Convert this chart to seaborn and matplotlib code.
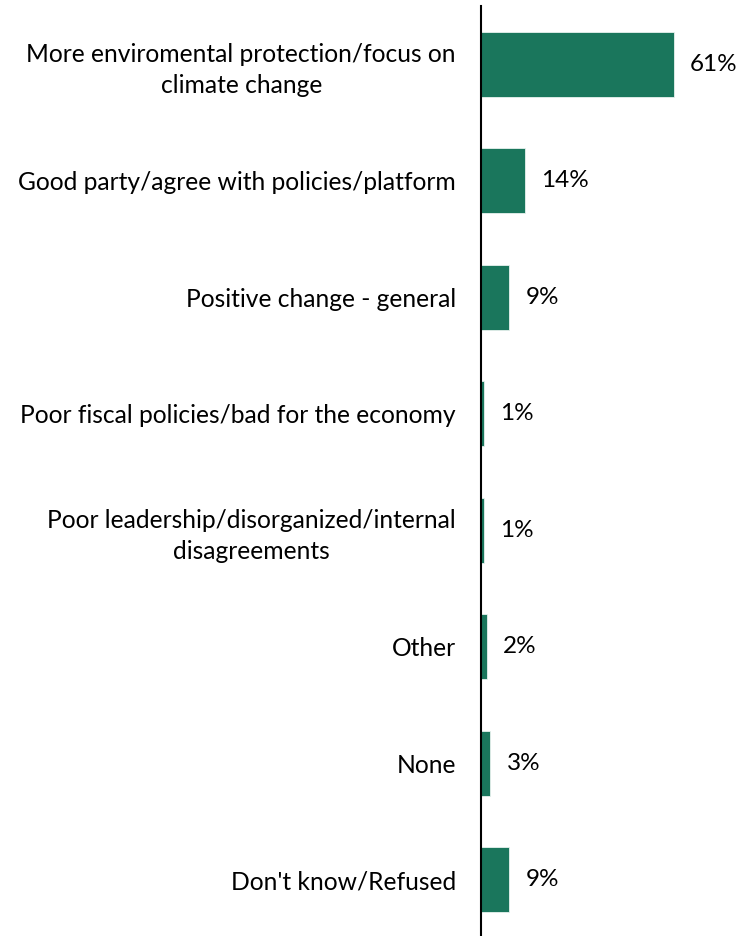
import matplotlib
matplotlib.use("Agg")
import matplotlib.pyplot as plt
import seaborn as sns
import pandas as pd

categories = [
    "More enviromental protection/focus on\nclimate change",
    "Good party/agree with policies/platform",
    "Positive change - general",
    "Poor fiscal policies/bad for the economy",
    "Poor leadership/disorganized/internal\ndisagreements",
    "Other",
    "None",
    "Don't know/Refused",
]
values = [61, 14, 9, 1, 1, 2, 3, 9]
value_labels = ["61%", "14%", "9%", "1%", "1%", "2%", "3%", "9%"]

sns.set_theme(style="white")
plt.rcParams["font.family"] = ["Lato", "DejaVu Sans"]

W, H = 741, 936
fig = plt.figure(figsize=(W / 100, H / 100), dpi=100)
ax = fig.add_axes([481 / W, -2 / H, (W - 481) / W, 932 / H])

df = pd.DataFrame({"cat": categories, "val": values})
sns.barplot(data=df, x="val", y="cat", orient="h", color="#1a765c",
            saturation=1, width=0.56, edgecolor="#e8f2ee", linewidth=0.6, ax=ax)

scale_px = 3.16
ax.set_xlim(0, (W - 481) / scale_px)
ax.set_ylim(7.5, -0.5)
ax.set_xlabel("")
ax.set_ylabel("")
ax.set_xticks([])
for s in ["top", "right", "bottom"]:
    ax.spines[s].set_visible(False)
ax.spines["left"].set_color("black")
ax.spines["left"].set_linewidth(1.5)
ax.tick_params(axis="y", length=0, pad=18, labelsize=17.7, labelcolor="black")
for lab in ax.get_yticklabels():
    lab.set_multialignment("center")
    lab.set_linespacing(1.4)

for i, (v, t) in enumerate(zip(values, value_labels)):
    ax.annotate(t, xy=(v, i), xytext=(16, 0), textcoords="offset pixels",
                ha="left", va="center", fontsize=17.5, color="black")

fig.savefig("out.png", dpi=100)
